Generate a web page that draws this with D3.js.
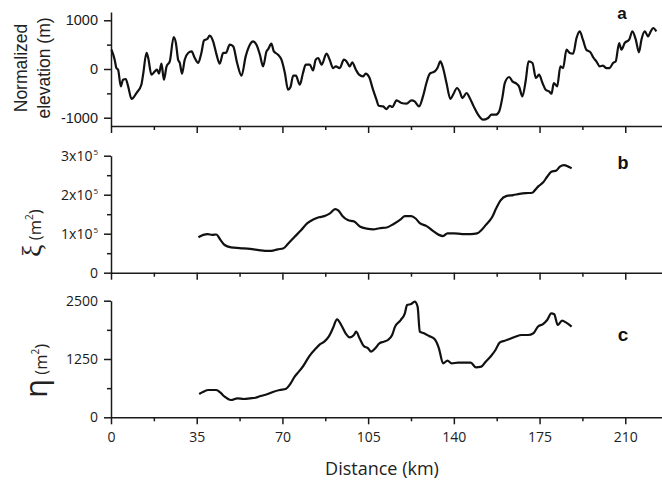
<!DOCTYPE html>
<html>
<head>
<meta charset="utf-8">
<script src="https://cdn.jsdelivr.net/npm/d3@7/dist/d3.min.js"></script>
<style>
  html, body { margin: 0; padding: 0; background: #fff; }
  svg { display: block; }
</style>
</head>
<body>
<svg id="chart" width="662" height="481"></svg>
<script>
// ---------------- DATA ----------------
const xTicks = [0, 35, 70, 105, 140, 175, 210];
const xMinorTicks = [17.5, 52.5, 87.5, 122.5, 157.5, 192.5];

const aTicks = [-1000, 0, 1000];
const aMinorTicks = [-500, 500];
const bTicks = [0, 100000, 200000, 300000];
const bTickLabels = ["0", "1x10", "2x10", "3x10"];
const bMinorTicks = [50000, 150000, 250000];
const cTicks = [0, 1250, 2500];
const cMinorTicks = [625, 1875];

// Panel a: normalized elevation (m) vs distance (km)
const aKm = [0.2,1.5,2.2,2.9,4.0,4.9,6.0,7.0,8.4,10.4,12.4,13.1,14.5,15.2,16.5,17.9,18.8,19.6,20.6,21.6,22.7,24.0,25.6,26.5,27.4,28.1,29.0,30.1,31.5,32.9,34.2,35.6,36.9,38.0,39.3,40.3,41.7,43.1,44.4,45.8,46.9,48.5,49.9,51.5,53.3,55.0,56.7,58.0,59.4,60.8,62.1,63.5,64.2,65.5,66.5,68.2,69.6,71.0,72.3,73.3,74.4,75.5,77.1,78.4,79.5,81.2,82.5,83.6,84.6,86.0,88.0,89.3,90.7,91.8,93.4,95.1,96.2,97.5,98.5,100.0,101.3,102.9,104.0,105.4,107.0,108.4,109.3,111.1,112.5,113.8,114.9,116.6,118.6,120.7,122.7,124.0,125.8,127.4,128.8,130.2,132.2,133.3,134.5,135.6,137.0,138.6,139.7,141.3,142.4,143.5,145.2,146.5,148.1,149.9,151.9,154.0,155.4,157.1,158.5,159.9,160.8,162.6,163.9,165.6,166.6,168.0,169.4,170.5,172.1,173.5,174.8,176.2,177.5,178.9,179.9,180.8,182.2,183.5,184.6,186.0,187.3,188.7,190.1,191.4,192.7,194.1,195.8,197.1,198.2,199.6,200.9,202.3,203.6,205.0,206.1,207.5,208.4,209.8,211.6,212.9,214.3,215.6,216.6,218.0,219.3,220.4,221.4,222.7];
const aVal = [396,190,20,-15,-357,-220,-205,-357,-616,-493,-322,-117,329,226,-117,-49,-14,-96,109,-220,53,156,657,534,191,123,-96,191,329,361,226,123,329,587,616,684,567,294,109,329,329,499,464,123,-138,259,499,567,499,294,53,361,410,519,361,294,191,-82,-425,-370,-138,-138,-322,-82,88,88,-29,191,226,88,314,191,20,53,20,191,156,53,136,-14,-117,-152,-96,-164,-425,-630,-754,-767,-822,-754,-780,-644,-699,-712,-644,-665,-767,-562,-288,-96,-49,20,156,20,-288,-616,-527,-390,-460,-596,-493,-596,-767,-938,-1041,-1006,-938,-938,-870,-562,-288,-164,-254,-302,-357,-562,-220,156,123,-185,-117,-288,-425,-460,-507,-288,-357,53,20,396,329,314,636,772,602,396,341,226,156,53,68,20,20,123,156,534,396,534,602,772,602,341,602,772,670,772,842,772];

// Panel b: xi (m^2)
const bKm = [35.7,37.7,39.5,41.3,43.0,44.7,46.4,49.0,52.5,56.8,60.3,62.9,65.5,68.1,70.3,72.4,75.0,77.6,80.2,82.8,84.9,87.1,89.4,91.5,92.9,94.6,96.7,99.3,101.8,104.4,107.1,109.6,112.6,115.4,118.3,120.0,122.6,124.4,126.1,128.7,131.3,133.9,135.6,137.4,140.0,143.4,146.9,149.5,151.2,153.0,155.6,157.3,159.0,161.6,164.2,166.8,169.4,172.0,173.3,174.6,176.4,178.1,179.8,181.9,183.3,185.0,186.7,188.1];
const bVal = [91000,97000,99000,97000,98000,84000,71000,65000,63000,61000,58000,56000,56000,60000,62000,75000,92000,109000,127000,137000,142000,145000,152000,163000,159000,145000,135000,131000,118000,113000,111000,114000,116000,125000,137000,145000,145000,139000,127000,120000,108000,97000,94000,101000,101000,99000,99000,101000,109000,122000,142000,165000,185000,197000,199000,202000,204000,205000,213000,222000,231000,246000,259000,262000,272000,276000,272000,268000];

// Panel c: eta (m^2)
const cKm = [36.0,37.7,39.8,43.0,44.7,46.4,49.0,51.6,54.2,56.8,59.0,61.1,63.7,66.4,68.9,71.5,73.2,75.0,76.7,78.5,81.0,83.7,85.4,87.1,88.9,90.6,92.3,94.0,95.8,97.5,99.2,100.1,101.5,103.2,105.0,106.2,107.9,109.6,111.4,113.1,114.8,116.0,118.3,120.0,120.9,122.6,124.0,125.2,126.1,127.8,129.9,132.2,133.9,135.6,137.4,139.1,141.7,144.3,146.9,149.0,151.2,153.0,155.2,157.0,158.7,160.8,162.5,165.1,167.7,170.3,172.5,174.3,176.4,178.1,179.8,181.0,182.4,184.2,185.9,188.1];
const cVal = [500,549,585,585,528,442,371,407,392,407,420,457,493,549,585,613,714,870,978,1100,1314,1479,1571,1621,1728,1908,2101,1979,1801,1715,1765,1835,1694,1529,1479,1407,1479,1587,1621,1657,1765,1943,2086,2230,2408,2429,2479,2372,1835,1801,1743,1672,1479,1158,1214,1158,1171,1171,1171,1072,1085,1192,1314,1443,1600,1643,1672,1728,1765,1765,1801,1943,2000,2086,2230,2210,1979,2071,2029,1943];

// ---------------- DRAW ----------------
const svg = d3.select("#chart");
const ink = "#1a1a1a";
const x = d3.scaleLinear().domain([0, 225]).range([111, 662]);

const panels = [
  { key: "a", km: aKm, val: aVal, y: d3.scaleLinear().domain([-1170, 1170]).range([126, 12]),
    ticks: aTicks, minor: aMinorTicks, labels: d => String(d), font: "'Liberation Sans', Arial, sans-serif", fs: 14.5,
    letter: { x: 622, y: 19, fs: 17 } },
  { key: "b", km: bKm, val: bVal, y: d3.scaleLinear().domain([0, 300000]).range([272.7, 155.7]),
    ticks: bTicks, minor: bMinorTicks, labels: null, font: "'Open Sans', sans-serif", fs: 14,
    letter: { x: 623, y: 169, fs: 18 } },
  { key: "c", km: cKm, val: cVal, y: d3.scaleLinear().domain([0, 2500]).range([417.3, 300.7]),
    ticks: cTicks, minor: cMinorTicks, labels: d => String(d), font: "'Open Sans', sans-serif", fs: 14,
    letter: { x: 623, y: 340.5, fs: 19 } }
];

panels.forEach((p, i) => {
  const g = svg.append("g");
  const y0 = p.y.range()[0];

  // x axis
  const xa = g.append("g").attr("transform", `translate(0,${y0})`)
    .call(d3.axisBottom(x).tickValues(xTicks).tickSize(7).tickSizeOuter(0)
      .tickFormat(i === 2 ? d => String(d) : () => ""));
  const xm = g.append("g").attr("transform", `translate(0,${y0})`)
    .call(d3.axisBottom(x).tickValues(xMinorTicks).tickSize(4).tickFormat(() => ""));
  xm.select(".domain").remove();
  [xa, xm].forEach(s => {
    s.selectAll("path, line").attr("stroke", ink).attr("stroke-width", 1.5);
    s.selectAll("text").attr("font-family", "'Open Sans', sans-serif").attr("font-size", 14)
      .attr("fill", "#222").attr("dy", "1.05em");
  });

  // y axis
  const ya = g.append("g").attr("transform", `translate(${x(0)},0)`)
    .call(d3.axisLeft(p.y).tickValues(p.ticks).tickSize(7).tickSizeOuter(0).tickPadding(6)
      .tickFormat(p.labels ? p.labels : (d, j) => bTickLabels[j]));
  const ym = g.append("g").attr("transform", `translate(${x(0)},0)`)
    .call(d3.axisLeft(p.y).tickValues(p.minor).tickSize(4).tickFormat(() => ""));
  ym.select(".domain").remove();
  [ya, ym].forEach(s => {
    s.selectAll("path, line").attr("stroke", ink).attr("stroke-width", 1.5);
    s.selectAll("text").attr("font-family", p.font).attr("font-size", p.fs).attr("fill", "#1a1a1a");
  });
  if (p.key === "b") {
    ya.selectAll(".tick text").each(function(d, j) {
      if (j > 0) {
        const t = d3.select(this);
        t.append("tspan").attr("font-size", 8).attr("dy", -6).attr("dx", 1).text("5");
      }
    });
  }

  // line
  const pts = p.km.map((k, j) => [k, p.val[j]]);
  g.append("path").datum(pts)
    .attr("fill", "none").attr("stroke", "#111").attr("stroke-width", 2.2)
    .attr("stroke-linejoin", "round")
    .attr("d", d3.line().x(d => x(d[0])).y(d => p.y(d[1])).curve(d3.curveMonotoneX));

  // panel letter
  g.append("text").attr("x", p.letter.x).attr("y", p.letter.y).attr("text-anchor", "middle")
    .attr("font-family", "'Liberation Sans', Arial, sans-serif").attr("font-weight", "bold")
    .attr("font-size", p.letter.fs).attr("fill", "#111").text(p.key);
});

// y titles
const ta = svg.append("text").attr("transform", "translate(0,68) rotate(-90)")
  .attr("text-anchor", "middle").attr("font-family", "'Liberation Sans', Arial, sans-serif")
  .attr("font-size", 17.5).attr("fill", "#222");
ta.append("tspan").attr("x", 0).attr("y", 27).text("Normalized");
ta.append("tspan").attr("x", 0).attr("y", 50).text("elevation (m)");

function greekTitle(sym, symFont, symSize, bx, by) {
  const t = svg.append("text").attr("transform", `translate(${bx},${by}) rotate(-90)`)
    .attr("font-family", "'Open Sans', sans-serif").attr("font-size", 16.5).attr("fill", "#222");
  t.append("tspan").attr("font-family", symFont).attr("font-size", symSize).text(sym);
  t.append("tspan").text(" (m");
  t.append("tspan").attr("font-size", 10).attr("dy", -8).text("2");
  t.append("tspan").attr("dy", 8).text(")");
}
greekTitle("ξ", "'Liberation Serif', serif", 28, 41, 257);
greekTitle("η", "'Open Sans', sans-serif", 31, 47, 398);

// x title
svg.append("text").attr("x", 382).attr("y", 475).attr("text-anchor", "middle")
  .attr("font-family", "'Open Sans', sans-serif").attr("font-size", 18).attr("fill", "#222")
  .text("Distance (km)");
</script>
</body>
</html>
